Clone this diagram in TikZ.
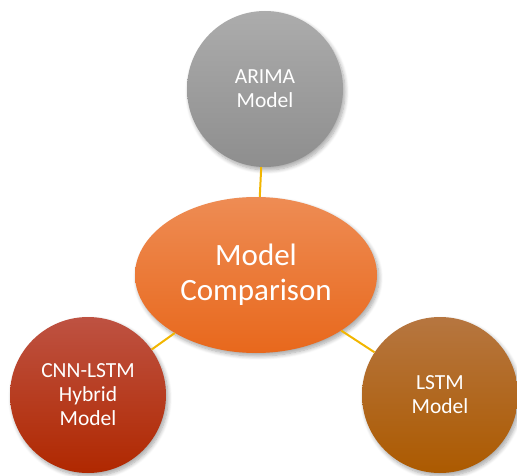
\documentclass[tikz,border=0pt]{standalone}
\usepackage{fontspec}
\setmainfont{Carlito}
\usetikzlibrary{shapes.geometric,shadows.blur}
\definecolor{linkc}{HTML}{F2B600}
\tikzset{
  bubble/.style={circle, minimum size=156pt, inner sep=0pt, align=center,
    text=white, font=\fontsize{21.5}{24}\selectfont,
    blur shadow={shadow xshift=2pt, shadow yshift=-3pt, shadow blur steps=8, shadow blur radius=4pt, shadow opacity=35}},
  link/.style={draw=linkc, line width=2pt}
}
\begin{document}
\begin{tikzpicture}[x=1pt,y=1pt]
\useasboundingbox (0,0) rectangle (517,475);
\node[bubble, top color={rgb,255:red,172;green,172;blue,172}, bottom color={rgb,255:red,142;green,142;blue,142}] (arima) at (265,386) {ARIMA\\Model};
\node[bubble, top color={rgb,255:red,190;green,82;blue,66}, bottom color={rgb,255:red,176;green,40;blue,0}] (cnn) at (88,80) {CNN-LSTM\\Hybrid\\Model};
\node[bubble, top color={rgb,255:red,182;green,118;blue,64}, bottom color={rgb,255:red,172;green,90;blue,0}] (lstm) at (440,80) {LSTM\\Model};
\node[ellipse, minimum width=242pt, minimum height=156pt, inner sep=0pt, align=center,
  text=white, font=\fontsize{31}{35}\selectfont,
  top color={rgb,255:red,238;green,140;blue,84}, bottom color={rgb,255:red,232;green,104;blue,28},
  blur shadow={shadow xshift=2pt, shadow yshift=-3pt, shadow blur steps=8, shadow blur radius=4pt, shadow opacity=35}]
  (comp) at (256,200) {Model\\Comparison};
\draw[link] (arima) -- (comp);
\draw[link] (cnn) -- (comp);
\draw[link] (lstm) -- (comp);
\end{tikzpicture}
\end{document}
